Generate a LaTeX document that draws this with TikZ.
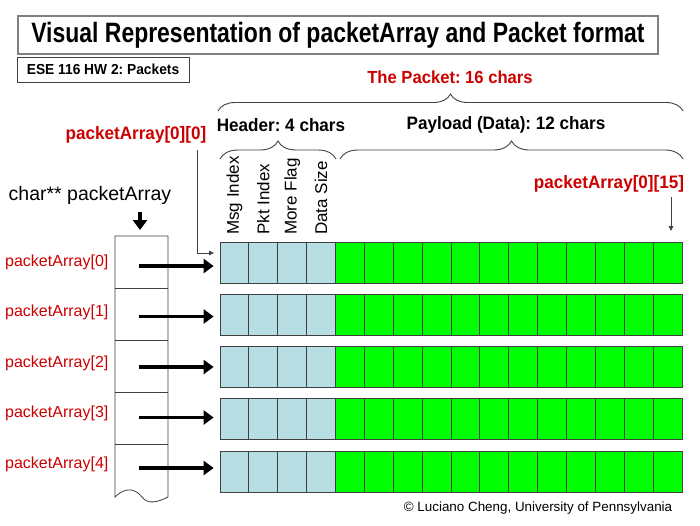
\documentclass[tikz,border=0pt]{standalone}
\usepackage{fontspec}
\setmainfont{Liberation Sans}
\newfontfamily\narrowbf{Liberation Sans}[FakeStretch=0.82]
\newfontfamily\semibf{Liberation Sans}[FakeStretch=0.95]
\usetikzlibrary{arrows.meta,decorations.pathreplacing}
\frenchspacing
\definecolor{hdrblue}{RGB}{183,222,226}
\definecolor{datagreen}{RGB}{0,255,0}
\definecolor{labelred}{RGB}{204,0,0}
\definecolor{edgegray}{RGB}{64,64,64}
\tikzset{
  cell/.style={draw=edgegray, line width=0.8pt, minimum width=28.875pt, minimum height=41pt, inner sep=0pt},
  bigarrow/.style={-{Triangle[length=10pt,width=14pt]}, line width=3.5pt},
  thinarrow/.style={edgegray, line width=0.9pt, -{Triangle[length=5pt,width=4.5pt]}},
  curly/.style={decorate, decoration={brace, amplitude=#1}, draw=edgegray, line width=0.9pt},
  boldtext/.style={font=\semibf\bfseries\fontsize{#1}{#1}\selectfont},
  redlabel/.style={text=labelred, font=\fontsize{16}{17}\selectfont, anchor=west, inner sep=0pt},
  fieldlabel/.style={rotate=90, anchor=west, inner sep=0pt, font=\fontsize{17}{17}\selectfont}
}
\begin{document}
\begin{tikzpicture}[x=1pt, y=-1pt]
  \useasboundingbox (0,0) rectangle (700,525);
  % heading boxes
  \node[draw=gray, line width=1.2pt, minimum width=640pt, minimum height=38pt, font=\narrowbf\bfseries\fontsize{28}{28}\selectfont] (title) at (338,35) {Visual Representation of packetArray and Packet format};
  \node[draw=edgegray, line width=0.9pt, minimum width=172pt, minimum height=25pt, boldtext=14.5] (hw) at (103,69.5) {ESE 116 HW 2: Packets};
  % packet rows
  \foreach \r in {0,...,4}{
    \foreach \c in {0,...,3}
      \node[cell, fill=hdrblue] (c-\r-\c) at ({220+28.875*(\c+0.5)}, {262.5+52.25*\r}) {};
    \foreach \c in {4,...,15}
      \node[cell, fill=datagreen] (c-\r-\c) at ({220+28.875*(\c+0.5)}, {262.5+52.25*\r}) {};
  }
  % field names
  \node[fieldlabel] (msg) at (c-0-0.north |- 0,235) {Msg Index};
  \node[fieldlabel] (pkt) at (c-0-1.north |- 0,235) {Pkt Index};
  \node[fieldlabel] (more) at (c-0-2.north |- 0,235) {More Flag};
  \node[fieldlabel] (size) at (c-0-3.north |- 0,235) {Data Size};
  % braces
  \draw[curly=17pt] (218,111) -- (683,111);
  \draw[curly=18pt] (220,159) -- (336,159);
  \draw[curly=18pt] (340,159) -- (683,159);
  \node[boldtext=17.5, text=labelred] (packet) at (450,77) {The Packet: 16 chars};
  \node[boldtext=18] (header) at (281,125) {Header: 4 chars};
  \node[boldtext=18] (payload) at (506,125) {Payload (Data): 12 chars};
  % index pointers
  \node[boldtext=18, text=labelred] (first) at (136,135) {packetArray[0][0]};
  \node[boldtext=18, text=labelred] (last) at (609,184) {packetArray[0][15]};
  \coordinate (firsttop) at (197,150);
  \coordinate (firsttip) at (214,253);
  \draw[thinarrow] (firsttop) |- (firsttip);
  \coordinate (lasttop) at (671,197);
  \coordinate (lasttip) at (671,231);
  \draw[thinarrow] (lasttop) -- (lasttip);
  % pointer array
  \node[font=\fontsize{19.5}{19.5}\selectfont] (ptr) at (90,195) {char** packetArray};
  \coordinate (down0) at (140,212);
  \coordinate (down1) at (140,230);
  \draw[bigarrow] (down0) -- (down1);
  \draw[edgegray, line width=0.8pt, fill=white] (168,497) -- (168,236) -- (115,236) -- (115,497)
    .. controls (125,487) and (135,488) .. (142,497) .. controls (148,505) and (158,502) .. (168,497);
  \foreach \y in {288,340,392,444}
    \draw[edgegray, line width=0.8pt] (115,\y) -- (168,\y);
  \foreach \r in {0,...,4}{
    \node[redlabel] (lbl\r) at (5,{262+50.5*\r}) {packetArray[\r]};
    \coordinate (s\r) at (139,{266+50.5*\r});
    \draw[bigarrow, shorten >=6pt] (s\r) -- (s\r -| c-\r-0.west);
  }
  \node[font=\fontsize{13.4}{14}\selectfont] (copy) at (538,508) {© Luciano Cheng, University of Pennsylvania};
\end{tikzpicture}
\end{document}
